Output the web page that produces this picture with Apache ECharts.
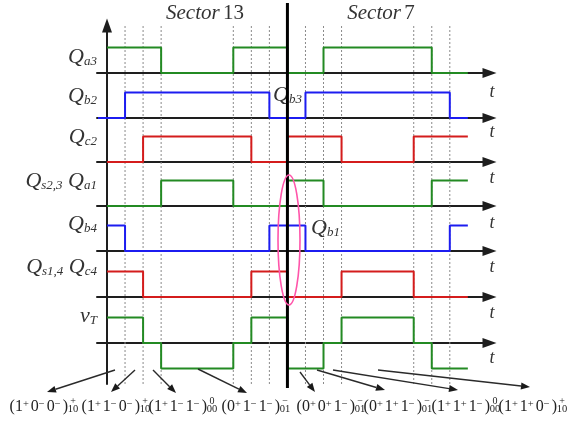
<!DOCTYPE html>
<html>
<head>
<meta charset="utf-8">
<script src="https://cdn.jsdelivr.net/npm/echarts@6/dist/echarts.min.js"></script>
<style>
  html, body { margin: 0; padding: 0; background: #fff; }
  #chart { width: 571px; height: 424px; }
</style>
</head>
<body>
<div id="chart"></div>
<script>
// Time is measured in sub-interval units; the sector boundary sits at t = 10.
const sectorBoundary = 10;
const dividerTimes = [1, 2, 3, 7, 8, 9, 11, 12, 13, 17, 18, 19];

// Switching states: [t, level] pairs, each level held until the next pair.
const qa3   = [[0, 1], [3, 0], [7, 1], [10, 0], [12, 1], [18, 0], [20, 0]];
const qb2b3 = [[-0.5, 0], [1, 1], [9, 0], [11, 1], [19, 0], [20, 0]];
const qc2   = [[0, 0], [2, 1], [8, 0], [10, 1], [13, 0], [17, 1], [20, 1]];
const qa1   = [[0, 0], [3, 1], [7, 0], [10, 1], [12, 0], [18, 1], [20, 1]];
const qb4b1 = [[0, 1], [1, 0], [9, 1], [11, 0], [19, 1], [20, 1]];
const qc4   = [[0, 1], [2, 0], [8, 1], [10, 0], [13, 1], [17, 0], [20, 0]];
const vT    = [[0, 1], [2, 0], [3, -1], [7, 0], [8, 1], [10, -1], [12, 0], [13, 1], [17, 0], [18, -1], [20, -1]];

// Row captions: [symbol, subscript] pieces
const rowLabels = [
  [['Q', 'a3']],
  [['Q', 'b2']],
  [['Q', 'c2']],
  [['Q', 's2,3'], ['Q', 'a1']],
  [['Q', 'b4']],
  [['Q', 's1,4'], ['Q', 'c4']],
  [['v', 'T']]
];
const sectorTitles = [['Sector', '13'], ['Sector', '7']];
const axisName = 't';

// Switching-state vectors written under the time axis
const stateDigits = [['1','0','0'], ['1','1','0'], ['1','1','1'], ['0','1','1'],
                     ['0','0','1'], ['0','1','1'], ['1','1','1'], ['1','1','0']];
const stateSigns  = [['+','−','−'], ['+','−','−'], ['+','−','−'], ['+','−','−'],
                     ['+','+','−'], ['+','+','−'], ['+','+','−'], ['+','+','−']];
const stateSup    = ['+', '+', '0', '−', '−', '−', '0', '+'];
const stateSub    = ['10', '10', '00', '01', '01', '01', '00', '10'];

// ---- layout ----
const W = 571, H = 424;
const X0 = 107;          // pixel of t = 0
const XEND = 489.5;      // pixel of the axis end
const T_MAX = 21.2;
const PX = (XEND - X0) / T_MAX;
const T_ROW_MIN = -(X0 - 97) / PX;
const rowBase = [73, 118, 162, 206, 251, 297, 343];
const AMP = 25.5;
const tNameOffset = [19, 14, 16, 17, 16, 16, 15];
const colors = { green: '#238a23', blue: '#1c1cf0', red: '#d41c1c', axis: '#1e1e1e', text: '#333' };
const rowSeries = [
  { data: qa3, color: colors.green },
  { data: qb2b3, color: colors.blue },
  { data: qc2, color: colors.red },
  { data: qa1, color: colors.green },
  { data: qb4b1, color: colors.blue },
  { data: qc4, color: colors.red },
  { data: vT, color: colors.green }
];
const SERIF = '"Liberation Serif", "Times New Roman", serif';

const grid = [], xAxis = [], yAxis = [], series = [];

rowBase.forEach(function (b, i) {
  grid.push({ left: 97, right: W - XEND, top: b - AMP, height: 2 * AMP, outerBoundsMode: 'none' });
  xAxis.push({
    type: 'value', gridIndex: i, min: T_ROW_MIN, max: T_MAX,
    axisLine: { onZero: true, symbol: ['none', 'triangle'], symbolSize: [10, 14],
                lineStyle: { color: colors.axis, width: 2 } },
    axisTick: { show: false }, axisLabel: { show: false }, splitLine: { show: false }
  });
  yAxis.push({ type: 'value', gridIndex: i, min: -1, max: 1, show: false });
  series.push({
    type: 'line', xAxisIndex: i, yAxisIndex: i, data: rowSeries[i].data, step: 'end',
    symbol: 'none', clip: false, z: 3, silent: true,
    lineStyle: { color: rowSeries[i].color, width: 2 }
  });
});

// Frame grid: vertical time origin axis and dotted sub-interval dividers
const F = rowBase.length;
grid.push({ left: X0, right: W - XEND, top: 25.5, bottom: H - 384, outerBoundsMode: 'none' });
xAxis.push({ type: 'value', gridIndex: F, min: 0, max: T_MAX, show: false });
yAxis.push({
  type: 'value', gridIndex: F, min: 0, max: 1, position: 'left',
  axisLine: { show: true, onZero: false, symbol: ['none', 'triangle'], symbolSize: [10, 14],
              lineStyle: { color: colors.axis, width: 2 } },
  axisTick: { show: false }, axisLabel: { show: false }, splitLine: { show: false }
});
dividerTimes.forEach(function (t) {
  series.push({
    type: 'line', xAxisIndex: F, yAxisIndex: F, data: [[t, 0], [t, 1]],
    symbol: 'none', silent: true, z: 1,
    lineStyle: { color: '#8a8a8a', width: 1, type: [2, 2] }
  });
});

// Sector boundary grid
const S = F + 1;
grid.push({ left: X0, right: W - XEND, top: 3, bottom: H - 388, outerBoundsMode: 'none' });
xAxis.push({ type: 'value', gridIndex: S, min: 0, max: T_MAX, show: false });
yAxis.push({ type: 'value', gridIndex: S, min: 0, max: 1, show: false });
series.push({
  type: 'line', xAxisIndex: S, yAxisIndex: S, data: [[sectorBoundary, 0], [sectorBoundary, 1]],
  symbol: 'none', silent: true, z: 5, lineStyle: { color: '#000', width: 3 }
});

// ---- text and annotations ----
const capRich = {
  q: { fontFamily: SERIF, fontStyle: 'italic', fontSize: 22, fill: colors.text },
  s: { fontFamily: SERIF, fontStyle: 'italic', fontSize: 13, fill: colors.text, verticalAlign: 'bottom', lineHeight: 15 }
};
function capText(parts) {
  return parts.map(function (p) { return '{q|' + p[0] + '}{s|' + p[1] + '}'; }).join('{q| }');
}
const labelY = [57, 96, 137, 181, 224, 267, 316];
const graphic = [];
rowLabels.forEach(function (parts, i) {
  graphic.push({ type: 'text', x: 97, y: labelY[i], z: 10,
    style: { text: capText(parts), rich: capRich, align: 'right', verticalAlign: 'middle' } });
  // time-axis name below each arrow
  graphic.push({ type: 'text', x: 492, y: rowBase[i] + tNameOffset[i], z: 10,
    style: { text: axisName, fontFamily: SERIF, fontStyle: 'italic', fontSize: 18, fill: colors.text,
             align: 'center', verticalAlign: 'middle' } });
});
graphic.push({ type: 'text', x: 273, y: 95, z: 1,
  style: { text: capText([['Q', 'b3']]), rich: capRich, align: 'left', verticalAlign: 'middle' } });
graphic.push({ type: 'text', x: 311, y: 228, z: 10,
  style: { text: capText([['Q', 'b1']]), rich: capRich, align: 'left', verticalAlign: 'middle' } });

const sectorX = [205, 381];
sectorTitles.forEach(function (s, i) {
  graphic.push({ type: 'text', x: sectorX[i], y: 13, z: 10,
    style: { text: '{i|' + s[0] + '} {n|' + s[1] + '}', align: 'center', verticalAlign: 'middle',
      rich: { i: { fontFamily: SERIF, fontStyle: 'italic', fontSize: 21, fill: colors.text },
              n: { fontFamily: SERIF, fontSize: 21, fill: colors.text } } } });
});

const stackX = [73, 145, 212, 285, 360, 427, 495, 562];
const stateRich = {
  m: { fontFamily: SERIF, fontSize: 16, fill: '#222' },
  p: { fontFamily: SERIF, fontSize: 10.5, fill: '#222', verticalAlign: 'top', lineHeight: 9, padding: [0, 2, 0, 0] }
};
stateDigits.forEach(function (d, i) {
  let txt = '{m|(}';
  d.forEach(function (digit, k) { txt += '{m|' + digit + '}{p|' + stateSigns[i][k] + '}'; });
  txt += '{m|)}';
  graphic.push({ type: 'text', x: stackX[i] - 5, y: 407, z: 10,
    style: { text: txt, rich: stateRich, align: 'right', verticalAlign: 'middle' } });
  graphic.push({ type: 'text', x: stackX[i], y: 406, z: 10,
    style: { text: '{u|' + stateSup[i] + '}\n{d|' + stateSub[i] + '}', align: 'center', verticalAlign: 'middle',
      rich: { u: { fontFamily: SERIF, fontSize: 10, fill: '#222', lineHeight: 7 },
              d: { fontFamily: SERIF, fontSize: 10.5, fill: '#222', lineHeight: 9 } } } });
});

const pointers = [
  [115, 370, 47, 392], [135, 370, 111, 392], [153, 370, 176, 393], [198, 369, 247, 393],
  [300, 372, 315, 392], [317, 370, 385, 390], [333, 370, 458, 390], [378, 370, 530, 387]
];
pointers.forEach(function (a) {
  const ang = Math.atan2(a[3] - a[1], a[2] - a[0]);
  const L = 9, hw = 3.5;
  const bx = a[2] - L * Math.cos(ang), by = a[3] - L * Math.sin(ang);
  const nx = -Math.sin(ang) * hw, ny = Math.cos(ang) * hw;
  graphic.push({ type: 'line', z: 10, silent: true,
    shape: { x1: a[0], y1: a[1], x2: bx, y2: by }, style: { stroke: '#2a2a2a', lineWidth: 1.4 } });
  graphic.push({ type: 'polygon', z: 10, silent: true,
    shape: { points: [[a[2], a[3]], [bx + nx, by + ny], [bx - nx, by - ny]] }, style: { fill: '#1a1a1a' } });
});

// Highlight around the commutation at the sector boundary
graphic.push({ type: 'ellipse', z: 20, silent: true,
  shape: { cx: 289, cy: 240, rx: 11, ry: 65 },
  style: { fill: 'none', stroke: '#ff55aa', lineWidth: 1.6 } });

const chart = echarts.init(document.getElementById('chart'), null, { renderer: 'canvas' });
chart.setOption({
  animation: false,
  backgroundColor: '#fff',
  grid: grid, xAxis: xAxis, yAxis: yAxis, series: series,
  graphic: graphic
});
</script>
</body>
</html>
